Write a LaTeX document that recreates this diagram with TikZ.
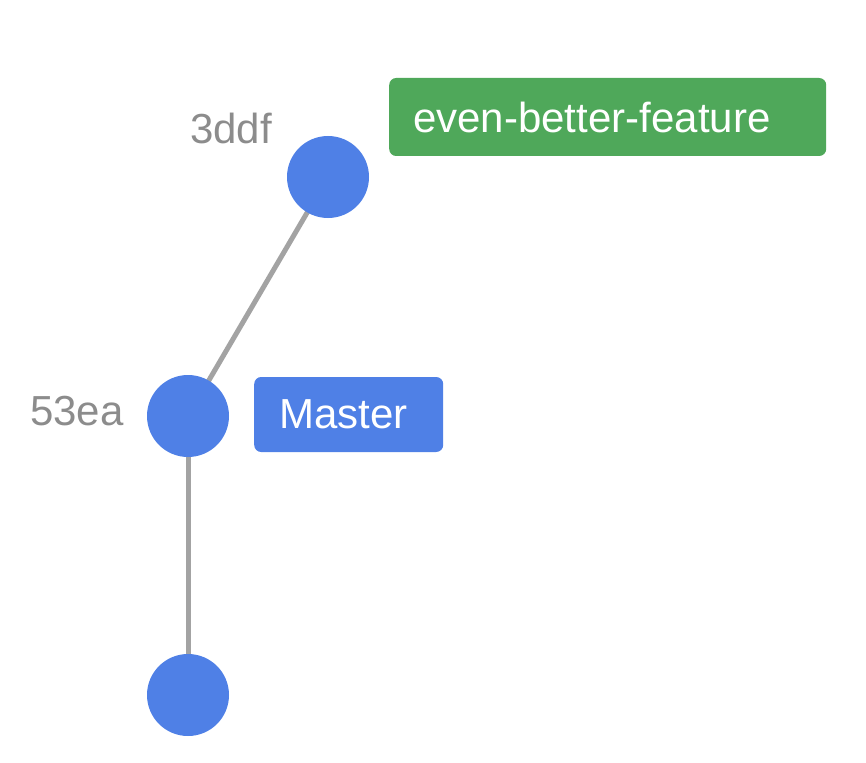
\documentclass[tikz,border=0pt]{standalone}
\usepackage{fontspec}
\setmainfont{Liberation Sans}
\usetikzlibrary{backgrounds}
\definecolor{cblue}{HTML}{4F80E6}
\definecolor{cgreen}{HTML}{4FA85A}
\definecolor{ctext}{HTML}{8C8C8C}
\definecolor{cline}{HTML}{A3A3A3}
\begin{document}
\begin{tikzpicture}[x=1pt,y=-1pt,
  commit/.style={circle,fill=cblue,minimum size=82pt,inner sep=0pt},
  edge/.style={draw=cline,line width=5pt},
  hash/.style={text=ctext,font=\fontsize{42}{50}\selectfont,inner sep=0pt},
  branchlabel/.style={rounded corners=7pt,text=white,font=\fontsize{42}{50}\selectfont,
    anchor=west,inner ysep=0pt,align=left}]
\useasboundingbox (0,0) rectangle (866,762);
\node[commit] (c3) at (328,177) {};
\node[commit] (c2) at (188,416) {};
\node[commit] (c1) at (188,695) {};
\begin{scope}[on background layer]
\draw[edge] (c2.center) -- (c3.center);
\draw[edge] (c2.center) -- (c1.center);
\end{scope}
\node[hash,anchor=base] (h3) at (231,143) {3ddf};
\node[hash,anchor=base] (h2) at (77,425) {53ea};
\node[branchlabel,fill=cgreen,inner xsep=24pt,text width=389pt,minimum height=78pt] (feat) at (389,117) {even-better-feature};
\node[branchlabel,fill=cblue,inner xsep=25pt,text width=139pt,minimum height=75pt] (mast) at (254,414.5) {Master};
\end{tikzpicture}
\end{document}
